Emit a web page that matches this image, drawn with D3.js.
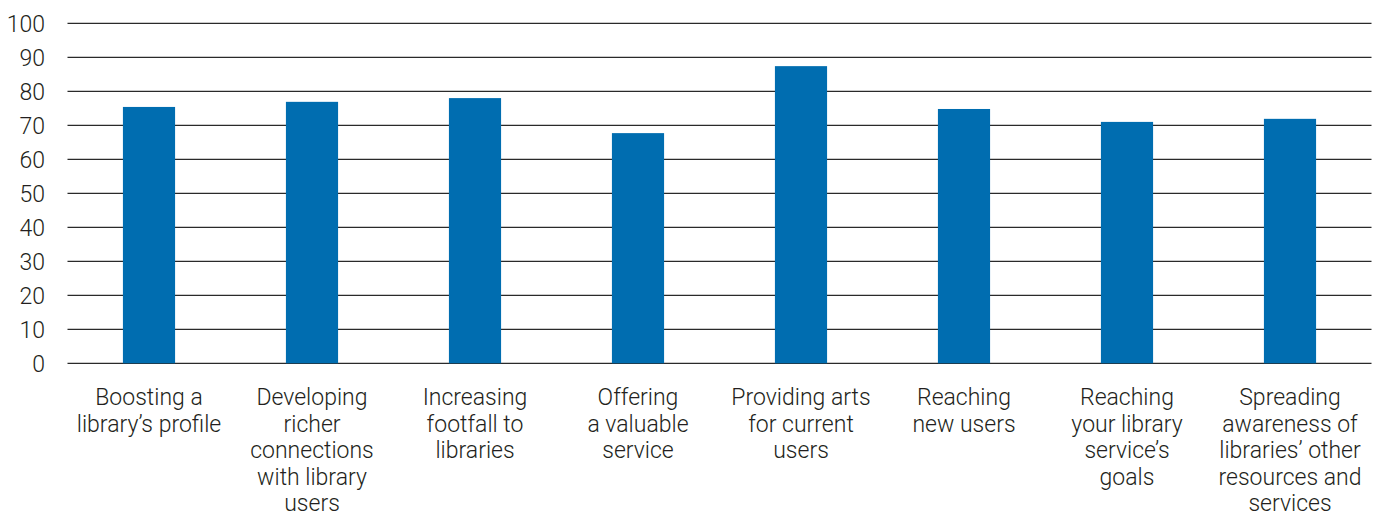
<!DOCTYPE html>
<html>
<head>
<meta charset="utf-8">
<script src="https://cdn.jsdelivr.net/npm/d3@7"></script>
<style>
  html, body { margin: 0; padding: 0; background: #fff; }
  svg text { font-family: Roboto, "Liberation Sans", sans-serif; font-weight: 300; fill: #231f20; }
</style>
</head>
<body>
<svg id="chart" width="1380" height="516"></svg>
<script>
// Share of respondents (%) rating each benefit
const categories = [
  ["Boosting a", "library\u2019s profile"],
  ["Developing", "richer", "connections", "with library", "users"],
  ["Increasing", "footfall to", "libraries"],
  ["Offering", "a valuable", "service"],
  ["Providing arts", "for current", "users"],
  ["Reaching", "new users"],
  ["Reaching", "your library", "service\u2019s", "goals"],
  ["Spreading", "awareness of", "libraries\u2019 other", "resources and", "services"]
];
const values = [75.4, 76.9, 78.0, 67.7, 87.4, 74.8, 71.0, 71.9];
const yTicks = [0, 10, 20, 30, 40, 50, 60, 70, 80, 90, 100];

const svg = d3.select("#chart");
const margin = { left: 67.5, right: 8.5, top: 23.3, bottom: 152.7 };
const W = 1380, H = 516;

const x = d3.scaleBand()
  .domain(d3.range(categories.length))
  .range([margin.left, W - margin.right])
  .paddingInner(0.68)
  .paddingOuter(0.34);

const y = d3.scaleLinear()
  .domain([0, 100])
  .range([H - margin.bottom, margin.top]);

// horizontal gridlines
svg.append("g")
  .selectAll("line")
  .data(yTicks)
  .join("line")
  .attr("x1", margin.left)
  .attr("x2", W - margin.right)
  .attr("y1", d => y(d))
  .attr("y2", d => y(d))
  .attr("stroke", "#2a2a2a")
  .attr("stroke-width", 1.3);

// y axis labels
const yAxis = d3.axisLeft(y).tickValues(yTicks).tickSize(0).tickPadding(0);
const yg = svg.append("g")
  .attr("transform", `translate(45,0)`)
  .call(yAxis);
yg.select(".domain").remove();
yg.selectAll("text")
  .attr("font-size", 23)
  .attr("dy", "0.34em")
  .style("font-family", "Roboto, 'Liberation Sans', sans-serif")
  .style("font-weight", 300)
  .attr("fill", "#231f20");

// bars
svg.append("g")
  .selectAll("rect")
  .data(values)
  .join("rect")
  .attr("x", (d, i) => x(i))
  .attr("width", x.bandwidth())
  .attr("y", d => y(d))
  .attr("height", d => y(0) - y(d))
  .attr("fill", "#006db0");

// category labels
const labels = svg.append("g")
  .selectAll("text")
  .data(categories)
  .join("text")
  .attr("x", (d, i) => x(i) + x.bandwidth() / 2)
  .attr("y", 405)
  .attr("text-anchor", "middle")
  .attr("font-size", 23);
labels.selectAll("tspan")
  .data(d => d)
  .join("tspan")
  .attr("x", function () { return this.parentNode.getAttribute("x"); })
  .attr("dy", (d, i) => i === 0 ? 0 : 26.6)
  .text(d => d);
</script>
</body>
</html>
